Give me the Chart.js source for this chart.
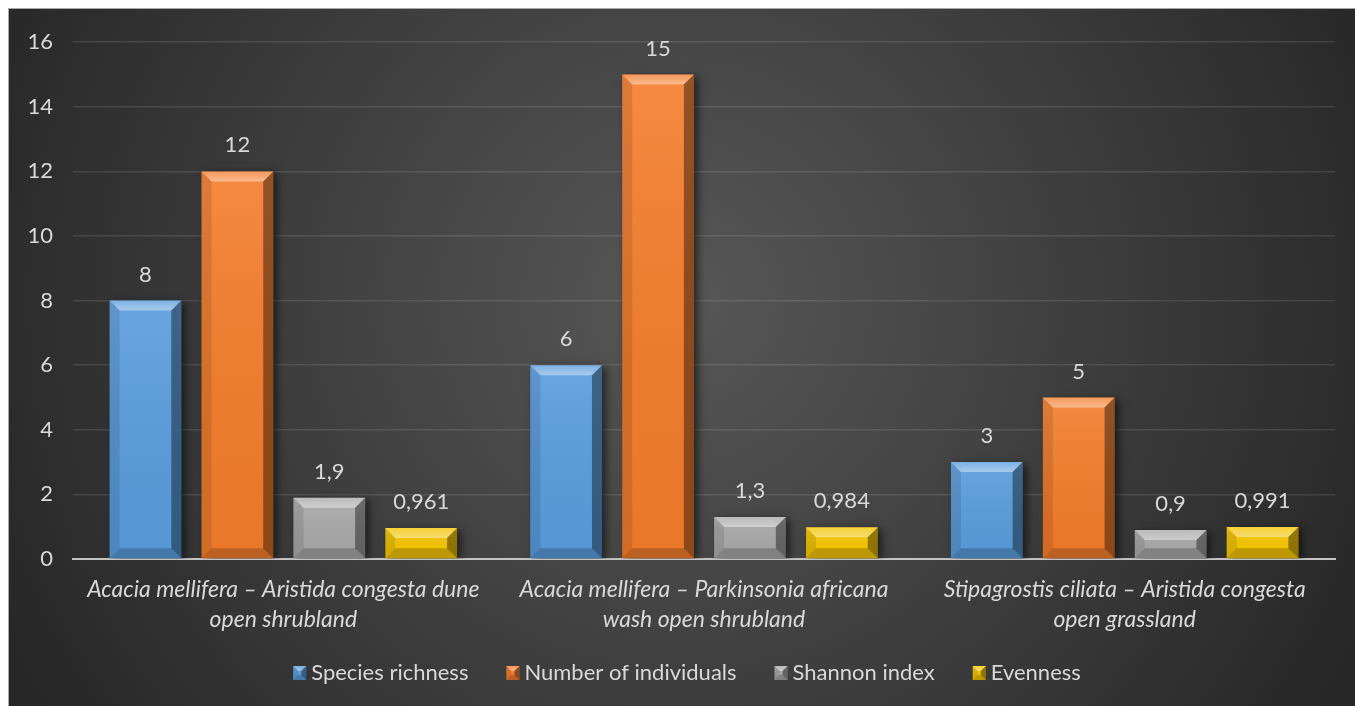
<!DOCTYPE html>
<html>
<head>
<meta charset="utf-8">
<script src="https://cdn.jsdelivr.net/npm/chart.js@4"></script>
<style>
  html, body { margin: 0; padding: 0; background: #ffffff; overflow: hidden; }
  #wrap {
    position: absolute; left: 8px; top: 8px;
    border-top: 1px solid #a8a8a8; border-left: 1px solid #a8a8a8;
    width: 1346px; height: 697px;
  }
  canvas { display: block; }
</style>
</head>
<body>
<div id="wrap"><canvas id="diversityChart" width="1346" height="697"></canvas></div>
<script>
// vegetation units (two-line labels)
const categories = [
    ['Acacia mellifera \u2013 Aristida congesta dune', 'open shrubland'],
    ['Acacia mellifera \u2013 Parkinsonia africana', 'wash open shrubland'],
    ['Stipagrostis ciliata \u2013 Aristida congesta', 'open grassland']
];
const seriesNames = ['Species richness', 'Number of individuals', 'Shannon index', 'Evenness'];
const speciesRichness = [8, 6, 3];
const numberOfIndividuals = [12, 15, 5];
const shannonIndex = [1.9, 1.3, 0.9];
const evenness = [0.961, 0.984, 0.991];
const yTicks = [0, 2, 4, 6, 8, 10, 12, 14, 16];

const barColors = ['#5a9dde', '#f47d2b', '#a9a9a9', '#f7c600'];
const textColor = '#d9d9d9';
const fontFamily = 'Lato, "Open Sans", sans-serif';

const fmt = v => String(v).replace('.', ',');

// bevelled face on top of a plain rectangle
function drawBevel(ctx, L, T, R, B, b) {
    b = Math.min(b, (R - L) / 2, (B - T) / 2);
    const poly = (pts, fill) => {
        ctx.beginPath();
        ctx.moveTo(pts[0][0], pts[0][1]);
        for (let i = 1; i < pts.length; i++) ctx.lineTo(pts[i][0], pts[i][1]);
        ctx.closePath();
        ctx.fillStyle = fill;
        ctx.fill();
    };
    // soft vertical sheen on the face
    const face = ctx.createLinearGradient(0, T, 0, B);
    face.addColorStop(0, 'rgba(255,255,255,0.10)');
    face.addColorStop(1, 'rgba(0,0,0,0.04)');
    ctx.fillStyle = face;
    ctx.fillRect(L, T, R - L, B - T);

    const top = ctx.createLinearGradient(0, T, 0, T + b);
    top.addColorStop(0, 'rgba(255,255,255,0.12)');
    top.addColorStop(1, 'rgba(255,255,255,0.42)');
    poly([[L, T], [R, T], [R - b, T + b], [L + b, T + b]], top);
    poly([[L, B], [R, B], [R - b, B - b], [L + b, B - b]], 'rgba(0,0,0,0.20)');
    poly([[L, T], [L + b, T + b], [L + b, B - b], [L, B]], 'rgba(0,0,0,0.10)');
    poly([[R, T], [R - b, T + b], [R - b, B - b], [R, B]], 'rgba(0,0,0,0.40)');
}

const backgroundPlugin = {
    id: 'radialBackground',
    beforeDraw(chart) {
        const { ctx, width, height } = chart;
        const g = ctx.createRadialGradient(width * 0.5, height * 0.42, 0, width * 0.5, height * 0.42, width * 0.56);
        g.addColorStop(0, '#575757');
        g.addColorStop(1, '#272727');
        ctx.save();
        ctx.fillStyle = g;
        ctx.fillRect(0, 0, width, height);
        ctx.restore();
    }
};

const shadowPlugin = {
    id: 'barShadow',
    beforeDatasetDraw(chart) {
        const ctx = chart.ctx;
        ctx.save();
        ctx.shadowColor = 'rgba(0,0,0,0.55)';
        ctx.shadowBlur = 8;
        ctx.shadowOffsetX = 4;
        ctx.shadowOffsetY = 2;
    },
    afterDatasetDraw(chart) {
        chart.ctx.restore();
    }
};

const bevelPlugin = {
    id: 'bevelAndLabels',
    afterDatasetsDraw(chart) {
        const ctx = chart.ctx;
        ctx.save();
        chart.data.datasets.forEach((ds, di) => {
            chart.getDatasetMeta(di).data.forEach((bar, i) => {
                const p = bar.getProps(['x', 'y', 'base', 'width'], true);
                const L = p.x - p.width / 2, R = p.x + p.width / 2;
                drawBevel(ctx, L, p.y, R, p.base, 10);
                ctx.fillStyle = textColor;
                ctx.font = '22px ' + fontFamily;
                ctx.textAlign = 'center';
                ctx.textBaseline = 'middle';
                ctx.fillText(fmt(ds.data[i]), p.x, p.y - 26);
            });
        });
        ctx.restore();
    }
};

const legendPlugin = {
    id: 'bevelLegend',
    afterDraw(chart) {
        const ctx = chart.ctx;
        const ds = chart.data.datasets;
        const icon = 13, gapIcon = 5, gapItem = 38, cy = 664;
        ctx.save();
        ctx.font = '22px ' + fontFamily;
        const widths = ds.map(d => ctx.measureText(d.label).width);
        const total = widths.reduce((a, w) => a + icon + gapIcon + w, 0) + gapItem * (ds.length - 1);
        let x = chart.width / 2 + 5 - total / 2;
        ds.forEach((d, i) => {
            ctx.fillStyle = d.backgroundColor;
            ctx.fillRect(x, cy - 7, icon, 14);
            drawBevel(ctx, x, cy - 7, x + icon, cy + 7, 5);
            ctx.fillStyle = textColor;
            ctx.textAlign = 'left';
            ctx.textBaseline = 'middle';
            ctx.fillText(d.label, x + icon + gapIcon, cy);
            x += icon + gapIcon + widths[i] + gapItem;
        });
        ctx.restore();
    }
};

const values = [speciesRichness, numberOfIndividuals, shannonIndex, evenness];

new Chart(document.getElementById('diversityChart'), {
    type: 'bar',
    data: {
        labels: categories,
        datasets: seriesNames.map((name, i) => ({
            label: name,
            data: values[i],
            backgroundColor: barColors[i],
            borderWidth: 0,
            categoryPercentage: 0.874,
            barPercentage: 0.78
        }))
    },
    options: {
        responsive: false,
        animation: false,
        layout: { padding: { top: 18, right: 20, left: 0, bottom: 0 } },
        plugins: {
            legend: { display: false },
            tooltip: { enabled: false }
        },
        scales: {
            x: {
                grid: { display: false },
                border: { display: true, color: '#c4c4c4', width: 2 },
                ticks: {
                    color: textColor,
                    padding: 8,
                    maxRotation: 0,
                    autoSkip: false,
                    font: { family: fontFamily, size: 23, style: 'italic', lineHeight: 1.3 }
                },
                afterFit(scale) { scale.height = 147; }
            },
            y: {
                min: 0,
                max: 16,
                afterBuildTicks(scale) { scale.ticks = yTicks.map(v => ({ value: v })); },
                grid: { color: 'rgba(255,255,255,0.11)', lineWidth: 1.5, drawTicks: false },
                border: { display: false },
                ticks: {
                    color: textColor,
                    padding: 20,
                    font: { family: fontFamily, size: 22 }
                },
                afterFit(scale) { scale.width = 64; }
            }
        }
    },
    plugins: [backgroundPlugin, shadowPlugin, bevelPlugin, legendPlugin]
});
</script>
</body>
</html>
